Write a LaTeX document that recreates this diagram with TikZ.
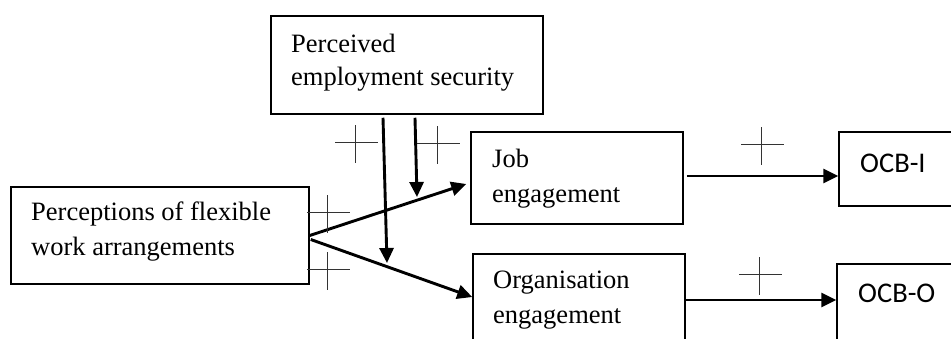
\documentclass[tikz,border=0pt]{standalone}
\usepackage{fontspec}
\setmainfont{Liberation Serif}
\newfontfamily\ocbfont{Carlito}
\usetikzlibrary{arrows.meta,calc}
\begin{document}
\begin{tikzpicture}[x=1pt,y=-1pt,
  box/.style={draw=black,line width=1.5pt,rectangle,inner sep=0pt},
  txt/.style={inner sep=0pt,anchor=base west,font=\fontsize{26.5}{34}\selectfont},
  ocbtxt/.style={inner sep=0pt,anchor=base west,font=\ocbfont\fontsize{28.5}{34}\selectfont},
  arr/.style={line width=2.9pt,-{Triangle[length=15pt,width=14pt]}},
  plus/.pic={\draw[line width=1pt,black!80] (-20,0) -- (23,0) (0,-17) -- (0,21);}
]
\clip (0,0) rectangle (951,338);
\fill[white] (0,0) rectangle (951,338);
% boxes
\node[box,minimum width=298pt,minimum height=97pt] (flex) at (160,235.5) {};
\node[box,minimum width=272pt,minimum height=98pt] (top) at (407,65) {};
\node[box,minimum width=212pt,minimum height=92pt] (job) at (577,178) {};
\node[box,minimum width=212pt,minimum height=106pt] (org) at (579,307) {};
\node[box,minimum width=131pt,minimum height=74pt] (ocbi) at (904.5,169) {};
\node[box,minimum width=133pt,minimum height=96pt] (ocbo) at (903.5,312) {};
% texts
\node[txt] (flexa) at (31,220) {Perceptions of flexible};
\node[txt] (flexb) at (31,255) {work arrangements};
\node[txt] (topa) at (291,52) {Perceived};
\node[txt] (topb) at (291,85) {employment security};
\node[txt] (joba) at (492,167) {Job};
\node[txt] (jobb) at (492,202) {engagement};
\node[txt] (orga) at (493,288) {Organisation};
\node[txt] (orgb) at (493,323) {engagement};
\node[ocbtxt] (ocbit) at (860,172) {OCB-I};
\node[ocbtxt] (ocbot) at (858,302) {OCB-O};
% free ends
\coordinate (tipA) at (387,263);
\coordinate (tipB) at (417,197);
% connectors
\draw[arr] (flex.east) -- ($(job.west)+(-4,6)$);
\draw[arr] ($(flex.east)+(1,4)$) -- ($(org.west)+(0,-10)$);
\draw[arr] ($(top.south)+(-24,3)$) -- (tipA);
\draw[arr] ($(top.south)+(8,3)$) -- (tipB);
\draw[arr] ($(job.east)+(3,-2)$) -- ($(ocbi.west)+(0,7)$);
\draw[arr] ($(org.east)+(0,-7)$) -- ($(ocbo.west)+(0,-12)$);
% plus signs
\pic at (355,142) {plus};
\pic at (437,143) {plus};
\pic at (327,212) {plus};
\pic at (327,269) {plus};
\pic at (761,144) {plus};
\pic at (759,274) {plus};
\end{tikzpicture}
\end{document}
